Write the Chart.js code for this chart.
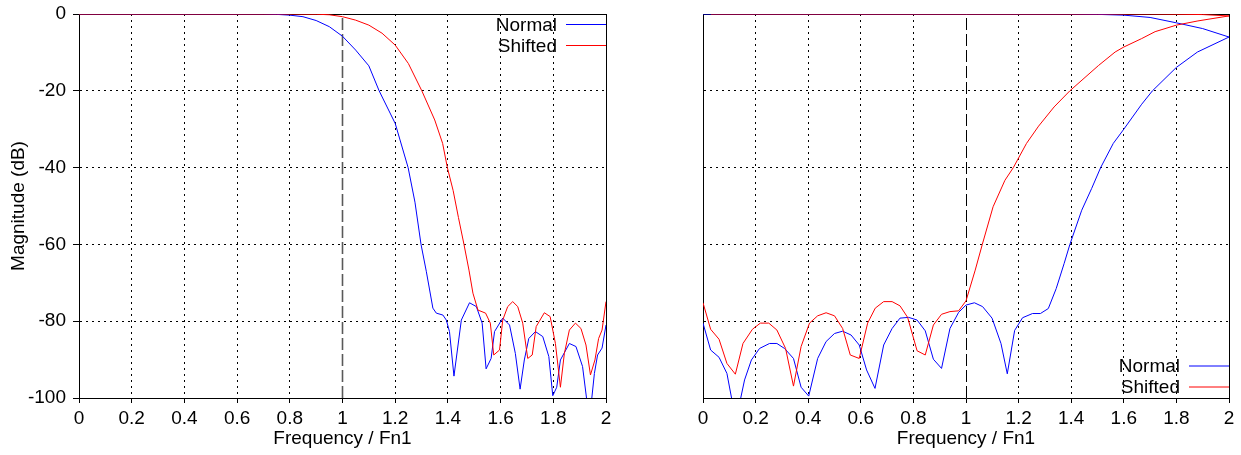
<!DOCTYPE html>
<html>
<head>
<meta charset="utf-8">
<script src="https://cdn.jsdelivr.net/npm/chart.js@4.4.0/dist/chart.umd.min.js"></script>
<style>
  body { margin: 0; background: #fff; width: 1241px; height: 455px; overflow: hidden; position: relative; }
  canvas { position: absolute; top: 0; }
  #left { left: 0; }
  #right { left: 620px; }
</style>
</head>
<body>
<canvas id="left" width="620" height="455"></canvas>
<canvas id="right" width="621" height="455"></canvas>
<script>
// axis ticks
const xTicks = [0, 0.2, 0.4, 0.6, 0.8, 1, 1.2, 1.4, 1.6, 1.8, 2];
const xTickLabels = ['0', '0.2', '0.4', '0.6', '0.8', '1', '1.2', '1.4', '1.6', '1.8', '2'];
const yTicks = [0, -20, -40, -60, -80, -100];
const yTickLabels = ['0', '-20', '-40', '-60', '-80', '-100'];
const seriesNames = ['Normal', 'Shifted'];

// left panel, Normal
const leftNormalX = [0, 0.6, 0.7, 0.75, 0.8, 0.85, 0.9, 0.95, 1.0, 1.05, 1.1, 1.139, 1.2, 1.249, 1.275, 1.298, 1.318, 1.343, 1.356, 1.381, 1.394, 1.406, 1.423, 1.451, 1.482, 1.508, 1.53, 1.545, 1.564, 1.577, 1.608, 1.634, 1.656, 1.674, 1.69, 1.707, 1.732, 1.76, 1.783, 1.798, 1.813, 1.827, 1.861, 1.886, 1.911, 1.937, 1.956, 1.968, 1.985, 2.0];
const leftNormalY = [0, 0, 0, -0.1, -0.3, -0.7, -1.7, -3.3, -5.8, -9.4, -13.5, -20, -28.5, -40, -49, -60, -67, -76.6, -77.9, -78.4, -79.7, -82.7, -94.3, -79.7, -75.2, -76.2, -80.5, -92.4, -89.7, -82.7, -79.2, -81, -88.4, -97.7, -90.1, -84.5, -82.7, -84, -89.2, -99.4, -97.2, -90.1, -85.8, -86.6, -91.8, -106, -93.6, -88.8, -87, -81];

// left panel, Shifted
const leftShiftedX = [0, 0.8, 0.9, 0.95, 1.0, 1.05, 1.1, 1.15, 1.2, 1.25, 1.301, 1.35, 1.38, 1.398, 1.42, 1.44, 1.461, 1.48, 1.495, 1.514, 1.543, 1.561, 1.574, 1.596, 1.608, 1.627, 1.646, 1.665, 1.684, 1.703, 1.72, 1.735, 1.766, 1.788, 1.808, 1.827, 1.842, 1.861, 1.884, 1.905, 1.924, 1.941, 1.958, 1.972, 1.985, 2.0];
const leftShiftedY = [0, 0, -0.05, -0.2, -0.7, -1.6, -2.9, -5, -8.1, -12.9, -20, -27.6, -33.7, -40, -46, -53, -60, -66.7, -72.7, -77.1, -77.9, -80.5, -88.8, -87.5, -79.7, -76.2, -74.9, -76.2, -80.5, -89.7, -88.8, -81.4, -77.8, -78.8, -85.8, -97.2, -88.4, -82.3, -80.5, -81.9, -86.2, -94, -90.1, -84.5, -82.3, -74.9];

// right panel, Normal (runs 0 -> 2 along the stopband, then back along 0 dB)
const rightNormalX = [0, 0.029, 0.061, 0.091, 0.125, 0.158, 0.184, 0.215, 0.253, 0.281, 0.31, 0.344, 0.373, 0.402, 0.436, 0.468, 0.5, 0.531, 0.563, 0.594, 0.622, 0.654, 0.687, 0.719, 0.749, 0.782, 0.814, 0.845, 0.876, 0.907, 0.939, 0.972, 1.0, 1.032, 1.063, 1.099, 1.133, 1.157, 1.185, 1.215, 1.253, 1.283, 1.313, 1.343, 1.373, 1.395, 1.44, 1.478, 1.512, 1.56, 1.6, 1.668, 1.709, 1.8, 1.88, 2.0, 1.9, 1.8, 1.7, 1.6, 1.5, 1.4, 0];
const rightNormalY = [-80.5, -87.5, -89.4, -93.6, -106, -95.3, -90.1, -87.1, -85.8, -85.8, -87.1, -89.7, -97.2, -99.5, -89.7, -85.3, -83.2, -82.6, -83.6, -86.2, -92.7, -97.5, -86.2, -81.9, -79.2, -79, -79.7, -82.5, -89.9, -92.3, -81.9, -77.7, -75.8, -75.2, -76.2, -79.2, -85.8, -93.7, -82.4, -79.1, -78, -78, -76.7, -71.5, -65, -60, -51.1, -45.4, -40, -33.7, -30, -23.5, -20, -13.9, -9.9, -6, -3.8, -2.3, -0.9, -0.3, -0.1, 0, 0];

// right panel, Shifted
const rightShiftedX = [0, 0.029, 0.061, 0.091, 0.123, 0.152, 0.188, 0.218, 0.25, 0.281, 0.314, 0.344, 0.373, 0.405, 0.436, 0.468, 0.5, 0.531, 0.56, 0.594, 0.626, 0.655, 0.687, 0.719, 0.749, 0.778, 0.814, 0.845, 0.876, 0.907, 0.939, 0.972, 1.0, 1.035, 1.062, 1.103, 1.148, 1.18, 1.23, 1.276, 1.335, 1.395, 1.504, 1.567, 1.6, 1.668, 1.719, 1.8, 1.882, 2.0, 1.9, 1.8, 1.7, 0.03];
const rightShiftedY = [-75.2, -82.1, -84.7, -91, -93.8, -85.8, -82.1, -80.5, -80.5, -82.3, -87.1, -96.9, -86.6, -80.5, -78.6, -77.8, -78.6, -81.9, -88.8, -89.7, -80.5, -76.6, -74.9, -74.9, -76, -79, -87.7, -88.8, -81, -78.2, -77.5, -77.3, -74.7, -66.7, -60, -50.2, -43.3, -40, -33.7, -29.2, -24.2, -20, -13.4, -9.9, -8.6, -6.4, -4.6, -2.9, -1.8, -0.5, -0.15, -0.05, 0, 0];

const FONT = '"Liberation Sans", Arial, sans-serif';
Chart.defaults.font.family = FONT;
Chart.defaults.font.size = 19;
Chart.defaults.color = '#000';

const pts = (xs, ys) => xs.map((x, i) => ({ x, y: ys[i] }));

// frame, and the dashed line at x = 1
const framePlugin = {
  id: 'frame',
  beforeDatasetsDraw(chart, args, o) {
    const { ctx, chartArea: a, scales: { x } } = chart;
    ctx.save();
    const px = x.getPixelForValue(1) + o.shift;
    ctx.strokeStyle = o.color;
    ctx.lineWidth = o.width;
    ctx.setLineDash([12, 4]);
    ctx.beginPath();
    ctx.moveTo(px, a.bottom);
    ctx.lineTo(px, a.top);
    ctx.stroke();
    ctx.setLineDash([]);
    ctx.strokeStyle = '#000';
    ctx.lineWidth = 1;
    ctx.beginPath();
    ctx.moveTo(a.left, a.top + 0.5);
    ctx.lineTo(a.right + 0.5, a.top + 0.5);
    ctx.lineTo(a.right + 0.5, a.bottom);
    ctx.stroke();
    ctx.restore();
  }
};

// gnuplot style key: text then sample line
const keyPlugin = {
  id: 'gpKey',
  afterDatasetsDraw(chart, args, o) {
    const { ctx, chartArea: a } = chart;
    ctx.save();
    ctx.font = '19px ' + FONT;
    ctx.textAlign = 'right';
    ctx.textBaseline = 'middle';
    chart.data.datasets.forEach((ds, i) => {
      const y = o.top ? a.top + 10.5 + i * 21 : a.bottom - 32 + i * 21;
      ctx.fillStyle = '#000';
      ctx.fillText(ds.label, a.right - 49, y + 1);
      ctx.strokeStyle = ds.borderColor;
      ctx.lineWidth = 1;
      ctx.beginPath();
      ctx.moveTo(a.right - 40, y);
      ctx.lineTo(a.right, y);
      ctx.stroke();
    });
    ctx.restore();
  }
};

function makeChart(id, normal, shifted, isLeft) {
  return new Chart(document.getElementById(id), {
    type: 'scatter',
    data: {
      datasets: [
        { label: seriesNames[0], data: normal, borderColor: '#0000ff', backgroundColor: '#0000ff', showLine: true, borderWidth: 1, pointRadius: 0, order: 2 },
        { label: seriesNames[1], data: shifted, borderColor: '#ff0000', backgroundColor: '#ff0000', showLine: true, borderWidth: 1, pointRadius: 0, order: 1 }
      ]
    },
    options: {
      responsive: false,
      animation: false,
      layout: { padding: { top: 14, right: isLeft ? 14 : 12, bottom: 0, left: 0 } },
      plugins: {
        legend: { display: false },
        tooltip: { enabled: false },
        frame: isLeft ? { color: 'rgba(0,0,0,0.65)', width: 1.6, shift: 0 } : { color: '#000', width: 1, shift: 0.5 },
        gpKey: { top: isLeft }
      },
      scales: {
        x: {
          type: 'linear', min: 0, max: 2,
          afterBuildTicks: s => { s.ticks = xTicks.map(v => ({ value: v })); },
          afterFit: s => { s.height = 57; },
          ticks: { callback: (v, i) => xTickLabels[i], padding: 4, maxRotation: 0, autoSkip: false },
          grid: { color: c => (c.tick && c.tick.value === 1) ? 'rgba(0,0,0,0)' : '#000', tickColor: '#000', tickLength: 5, lineWidth: 1 },
          border: { display: true, color: '#000', width: 1, dash: [2, 4] },
          title: { display: true, text: 'Frequency / Fn1', padding: { top: 0, bottom: 5 } }
        },
        y: {
          type: 'linear', min: -100, max: 0,
          afterBuildTicks: s => { s.ticks = yTicks.map(v => ({ value: v })); },
          afterFit: s => { s.width = isLeft ? 79 : 83; s.paddingTop = 0; s.paddingBottom = 0; },
          ticks: { display: isLeft, callback: (v, i) => yTickLabels[i], padding: 7 },
          grid: { color: '#000', tickColor: '#000', tickLength: 6, drawTicks: isLeft, lineWidth: 1 },
          border: { display: true, color: '#000', width: 1, dash: [2, 4] },
          title: { display: isLeft, text: 'Magnitude (dB)', padding: { top: 7, bottom: 0 } }
        }
      }
    },
    plugins: [framePlugin, keyPlugin]
  });
}

makeChart('left', pts(leftNormalX, leftNormalY), pts(leftShiftedX, leftShiftedY), true);
makeChart('right', pts(rightNormalX, rightNormalY), pts(rightShiftedX, rightShiftedY), false);
</script>
</body>
</html>
